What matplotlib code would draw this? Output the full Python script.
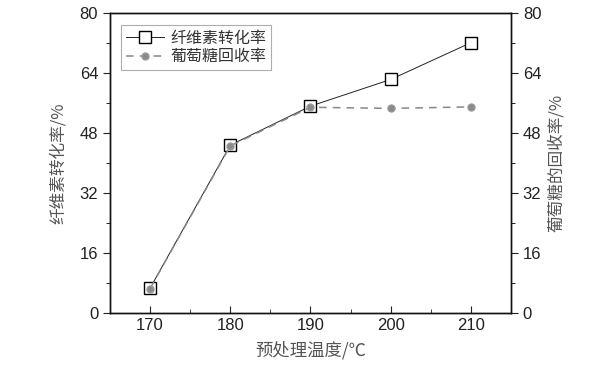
import numpy as np
import matplotlib
matplotlib.use("Agg")
import matplotlib.pyplot as plt
from matplotlib.ticker import MultipleLocator

plt.rcParams['font.family'] = ['Liberation Sans', 'Noto Sans CJK SC', 'DejaVu Sans']

# data
temps = [170, 180, 190, 200, 210]
cellulose = [6.6, 44.7, 55.1, 62.2, 72.0]
glucose = [6.5, 44.5, 54.8, 54.5, 54.9]

cjk = ['Noto Sans CJK SC', 'DejaVu Sans']
label_color = '#555555'

fig = plt.figure(figsize=(5.99, 3.73), dpi=100)
ax = fig.add_axes([0.1836, 0.161, 0.6694, 0.805])

l1, = ax.plot(temps, cellulose, '-', color='#222222', lw=0.7, marker='s',
              ms=8, mfc='white', mec='black', mew=1.0, zorder=3)
l2, = ax.plot(temps, glucose, '--', color='#888888', lw=1.1, dashes=(5, 4),
              marker='o', ms=5, mfc='#8a8a8a', mec='#999999', zorder=4)

ax.set_xlim(165, 215)
ax.set_ylim(0, 80)
ax.set_xticks(temps)
ax.xaxis.set_minor_locator(MultipleLocator(5))
ax.set_yticks(np.arange(0, 81, 16))
ax.yaxis.set_minor_locator(MultipleLocator(8))
ax.tick_params(axis='x', which='both', direction='in', labelsize=12, colors='#222222')
ax.tick_params(axis='x', which='major', length=5)
ax.tick_params(axis='x', which='minor', length=3)
ax.tick_params(axis='y', which='major', direction='out', length=5, labelsize=12, colors='#222222')
ax.tick_params(axis='y', which='minor', direction='out', length=3)

ax.set_xlabel('预处理温度/℃', family=cjk, fontsize=12.5, color=label_color, labelpad=6)
ax.set_ylabel('纤维素转化率/%', family=cjk, fontsize=12, color=label_color, labelpad=9)

ax2 = ax.twinx()
ax2.set_ylim(0, 80)
ax2.set_yticks(np.arange(0, 81, 16))
ax2.yaxis.set_minor_locator(MultipleLocator(8))
ax2.tick_params(axis='y', which='major', direction='out', length=5, labelsize=12, colors='#222222')
ax2.tick_params(axis='y', which='minor', direction='out', length=3)
ax2.set_ylabel('葡萄糖的回收率/%', family=cjk, fontsize=12, color=label_color, labelpad=5)

for a in (ax, ax2):
    for s in a.spines.values():
        s.set_linewidth(1.0)
        s.set_color('#111111')

leg = ax.legend([l1, l2], ['纤维素转化率', '葡萄糖回收率'], loc='upper left',
                bbox_to_anchor=(0.02, 0.97), prop={'family': cjk, 'size': 11.5},
                fancybox=False, edgecolor='#999999', handlelength=2.4,
                borderpad=0.3, labelspacing=0.1, handletextpad=0.4,
                borderaxespad=0.2)
leg.get_frame().set_linewidth(0.8)
for t in leg.get_texts():
    t.set_color('#333333')

fig.savefig('out.png', dpi=100)
